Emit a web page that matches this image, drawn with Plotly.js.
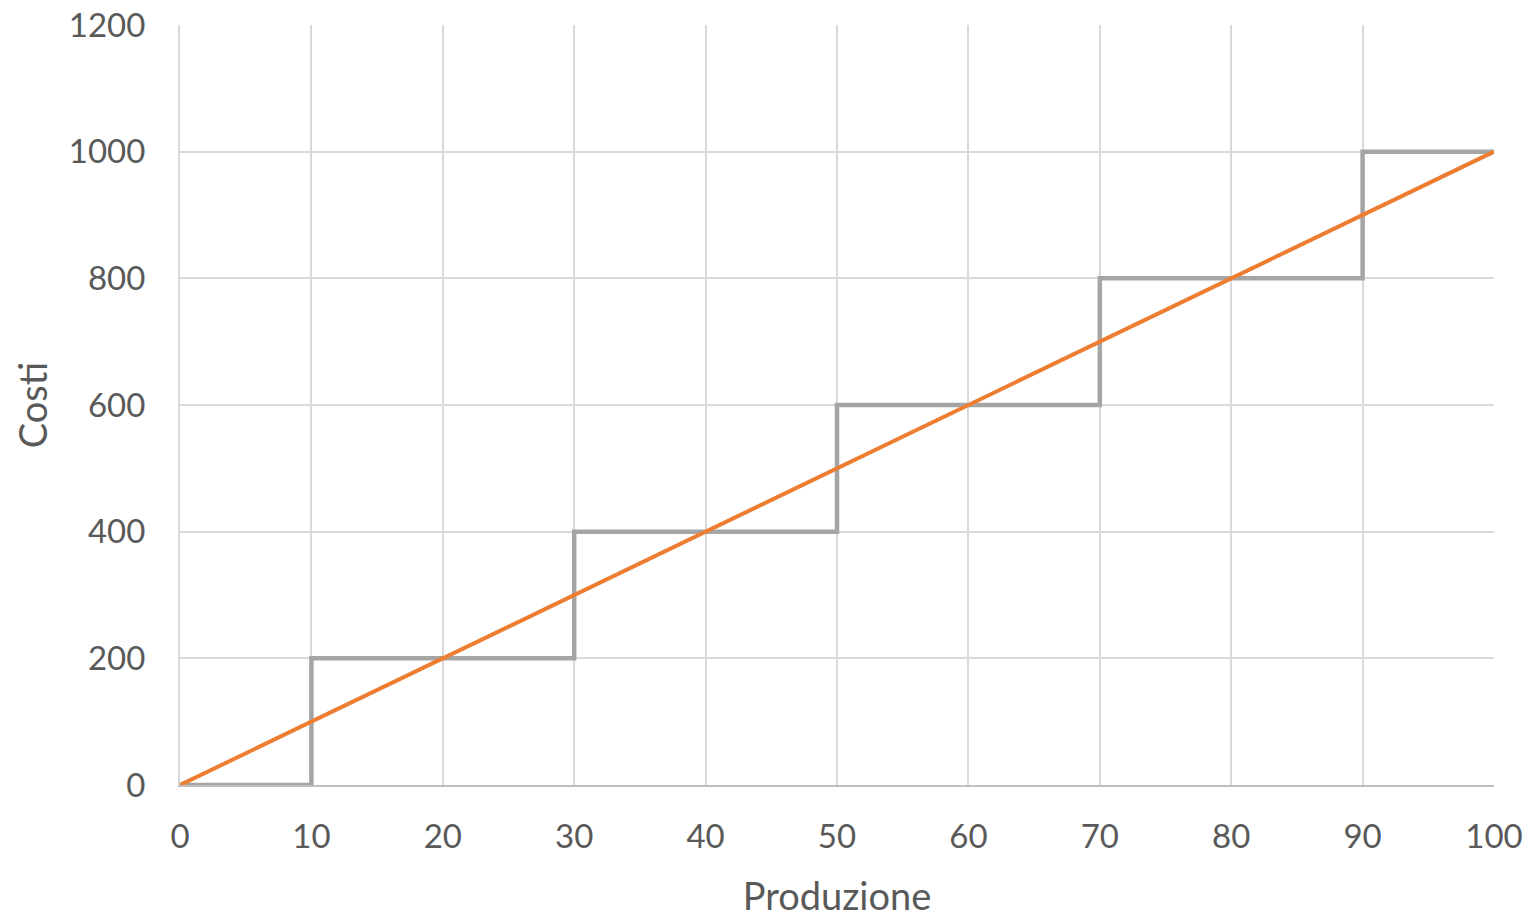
<!DOCTYPE html>
<html>
<head>
<meta charset="utf-8">
<script src="https://cdn.plot.ly/plotly-3.0.1.min.js"></script>
<style>html,body{margin:0;padding:0;background:#fff;}#chart{width:1533px;height:918px;}</style>
</head>
<body>
<div id="chart"></div>
<script>
const stepX = [0, 10, 30, 50, 70, 90, 100];
const stepY = [0, 200, 400, 600, 800, 1000, 1000];
const lineX = [0, 100];
const lineY = [0, 1000];
const xTicks = [0, 10, 20, 30, 40, 50, 60, 70, 80, 90, 100];
const yTicks = [0, 200, 400, 600, 800, 1000, 1200];

const font = "Lato, 'Open Sans', sans-serif";
const data = [
  {x: stepX, y: stepY, mode: 'lines', line: {shape: 'hv', color: '#A5A5A5', width: 4.5}, hoverinfo: 'skip'},
  {x: lineX, y: lineY, mode: 'lines', line: {color: '#ED7D31', width: 4}, hoverinfo: 'skip'}
];
const layout = {
  width: 1533, height: 918,
  margin: {l: 180, r: 39, t: 25, b: 133},
  paper_bgcolor: '#fff', plot_bgcolor: '#fff',
  showlegend: false,
  font: {family: font, color: '#595959', size: 33},
  xaxis: {
    range: [0, 100], tickvals: xTicks, ticktext: xTicks.map(String),
    showgrid: true, gridcolor: '#D9D9D9', gridwidth: 2,
    zeroline: false, showline: true, linecolor: '#BFBFBF', linewidth: 2,
    ticks: '', ticklabelstandoff: 21,
    title: {text: 'Produzione', font: {size: 38, color: '#595959'}, standoff: 32}
  },
  yaxis: {
    range: [0, 1200], tickvals: yTicks, ticktext: yTicks.map(String),
    showgrid: true, gridcolor: '#D9D9D9', gridwidth: 2,
    zeroline: false, showline: true, linecolor: '#D9D9D9', linewidth: 2,
    ticks: '', ticklabelstandoff: 26,
    title: {text: 'Costi', font: {size: 38, color: '#595959'}, standoff: 10}
  }
};
Plotly.newPlot('chart', data, layout, {displayModeBar: false, staticPlot: true});
</script>
</body>
</html>
